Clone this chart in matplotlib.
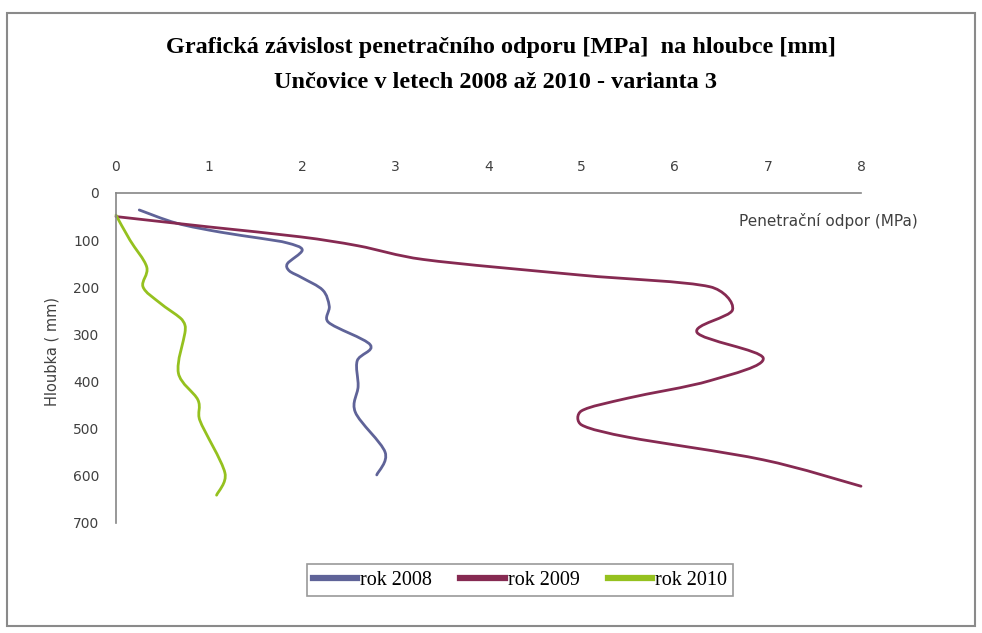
import matplotlib
matplotlib.use("Agg")
import matplotlib.pyplot as plt
from matplotlib.path import Path
from matplotlib.patches import PathPatch, Rectangle
from matplotlib.lines import Line2D
import numpy as np

# ---- data ----
x_ticks = [0, 1, 2, 3, 4, 5, 6, 7, 8]
y_ticks = [0, 100, 200, 300, 400, 500, 600, 700]

labels = ["rok 2008", "rok 2009", "rok 2010"]

odpor_2008 = [0.25, 0.65, 1.12, 1.55, 1.84, 2.0, 1.84, 1.86, 2.0, 2.22, 2.29, 2.28, 2.73, 2.59, 2.60, 2.57, 2.89, 2.80]
hloubka_2008 = [36, 64, 83, 96, 106, 121, 150, 165, 180, 206, 240, 274, 322, 356, 410, 465, 550, 598]

odpor_2009 = [0.0, 1.0, 1.98, 2.6, 3.3, 4.98, 6.38, 6.62, 6.24, 6.95, 6.38, 5.5, 5.0, 5.0, 5.5, 6.95, 8.0]
hloubka_2009 = [50, 72, 93, 112, 141, 174, 199, 248, 296, 350, 398, 435, 462, 492, 518, 566, 622]

odpor_2010 = [0.0, 0.15, 0.33, 0.29, 0.47, 0.69, 0.74, 0.74, 0.67, 0.88, 0.90, 1.17, 1.08]
hloubka_2010 = [47, 100, 157, 199, 233, 265, 280, 297, 382, 439, 482, 594, 641]

colors = ["#5f6398", "#862a52", "#95c11f"]

series = [(odpor_2008, hloubka_2008), (odpor_2009, hloubka_2009), (odpor_2010, hloubka_2010)]


def _clip(v, maxlen):
    n = np.hypot(*v)
    return v * (maxlen / n) if n > maxlen and n > 0 else v


def smooth_path(ax, xs, ys):
    """Catmull-Rom style smoothed line through the data points (computed in display
    space, handles limited so that short segments do not overshoot)."""
    pts = ax.transData.transform(np.column_stack([xs, ys]).astype(float))
    n = len(pts)
    verts = [pts[0]]
    codes = [Path.MOVETO]
    for i in range(n - 1):
        p0 = pts[i - 1] if i > 0 else pts[i]
        p1 = pts[i]
        p2 = pts[i + 1]
        p3 = pts[i + 2] if i + 2 < n else pts[i + 1]
        seg = np.hypot(*(p2 - p1))
        h1 = _clip((p2 - p0) / 6.0, 0.42 * seg)
        h2 = _clip((p3 - p1) / 6.0, 0.42 * seg)
        verts += [p1 + h1, p2 - h2, p2]
        codes += [Path.CURVE4] * 3
    verts = ax.transData.inverted().transform(np.array(verts))
    return Path(verts, codes)


fig = plt.figure(figsize=(9.82, 6.33), dpi=100)
fig.patch.set_facecolor("white")

# outer chart frame
fig.patches.append(Rectangle((7 / 982, 1 - 626 / 633), 968 / 982, 613 / 633,
                             transform=fig.transFigure, fill=False,
                             edgecolor="#8a8a8a", linewidth=1.5))

ax = fig.add_axes([116 / 982, 1 - 523 / 633, (861 - 116) / 982, (523 - 193) / 633])
ax.set_xlim(0, 8)
ax.set_ylim(700, 0)
ax.set_xticks(x_ticks)
ax.set_yticks(y_ticks)
ax.xaxis.tick_top()
ax.tick_params(length=0, labelsize=10, labelcolor="#404040")
ax.tick_params(axis="y", pad=12)
ax.tick_params(axis="x", pad=14)
for lab in ax.get_xticklabels() + ax.get_yticklabels():
    lab.set_fontfamily("DejaVu Sans")
for s in ["right", "bottom"]:
    ax.spines[s].set_visible(False)
for s in ["left", "top"]:
    ax.spines[s].set_color("#868686")
    ax.spines[s].set_linewidth(1.2)

for (xs, ys), c in zip(series, colors):
    patch = PathPatch(smooth_path(ax, xs, ys), facecolor="none", edgecolor=c,
                      linewidth=2.0, transform=ax.transData, clip_on=False,
                      capstyle="round", joinstyle="round")
    ax.add_patch(patch)

fig.text(918 / 982, 1 - 221 / 633, "Penetrační odpor (MPa)", ha="right", va="center",
         fontsize=11, color="#404040", family="DejaVu Sans")
fig.text(52 / 982, 1 - 352 / 633, "Hloubka ( mm)", rotation=90, ha="center", va="center",
         fontsize=10.5, color="#404040", family="DejaVu Sans")

fig.text(0.51, 1 - 47 / 633, "Grafická závislost penetračního odporu [MPa]  na hloubce [mm]",
         ha="center", va="center", fontsize=17.5, fontweight="bold", family="Liberation Serif")
fig.text(0.505, 1 - 83 / 633, "Unčovice v letech 2008 až 2010 - varianta 3",
         ha="center", va="center", fontsize=17.5, fontweight="bold", family="Liberation Serif")

handles = [Line2D([0], [0], color=c, lw=4.5) for c in colors]
leg = fig.legend(handles, labels, loc="center", bbox_to_anchor=(520 / 982, 1 - 580 / 633),
                 ncol=3, frameon=True, fancybox=False, edgecolor="#808080",
                 prop={"family": "Liberation Serif", "size": 14.5},
                 handlelength=2.2, handletextpad=0.15, columnspacing=1.4,
                 borderpad=0.3)
leg.get_frame().set_linewidth(1.2)

fig.savefig("out.png", dpi=100, facecolor="white")
